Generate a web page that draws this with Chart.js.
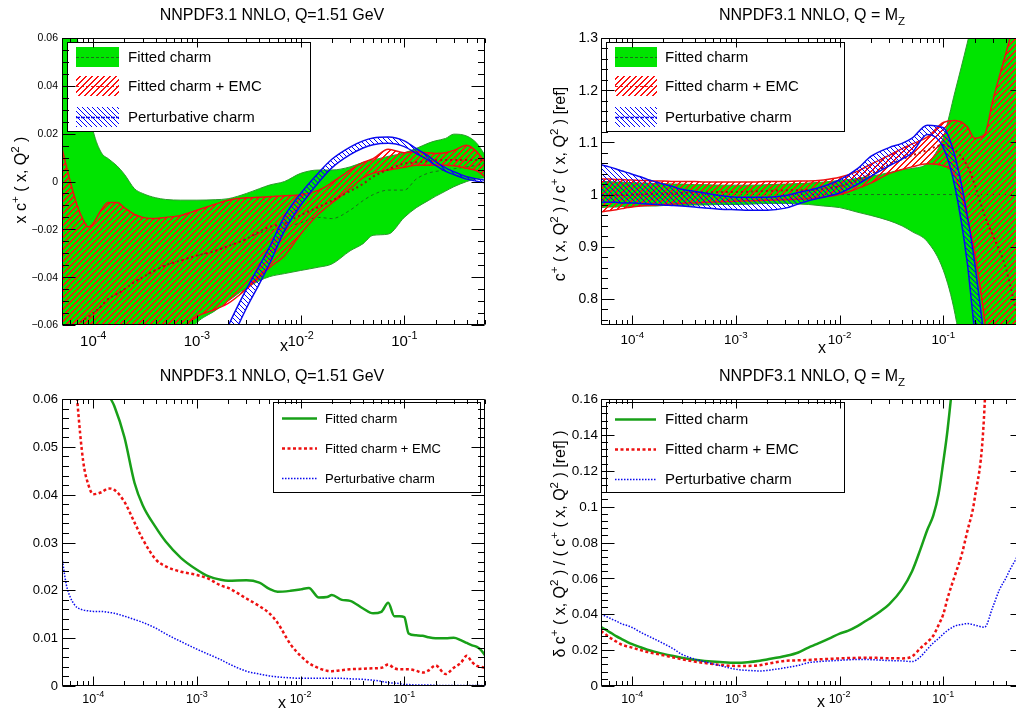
<!DOCTYPE html>
<html>
<head>
<meta charset="utf-8">
<script src="https://cdn.jsdelivr.net/npm/chart.js@4.4.1/dist/chart.umd.min.js"></script>
<style>
  html, body { margin: 0; padding: 0; background: #fff; width: 1016px; height: 709px; overflow: hidden; }
  .cell { position: absolute; overflow: hidden; }
  canvas { display: block; }
</style>
</head>
<body>
<div class="cell" style="left:0;top:0;width:508px;height:354px"><canvas id="c1" width="508" height="354"></canvas></div>
<div class="cell" style="left:508px;top:0;width:508px;height:354px"><canvas id="c2" width="530" height="354"></canvas></div>
<div class="cell" style="left:0;top:354px;width:508px;height:355px"><canvas id="c3" width="508" height="355"></canvas></div>
<div class="cell" style="left:508px;top:354px;width:508px;height:355px"><canvas id="c4" width="530" height="355"></canvas></div>
<script>
// x range shared by all four pads
const X_MIN = 5e-5;
const X_MAX = 0.6;
const xDecades = [1e-4, 1e-3, 1e-2, 1e-1];
const xDecadeExp = ['-4', '-3', '-2', '-1'];
const legendLabels = ['Fitted charm', 'Fitted charm + EMC', 'Perturbative charm'];

// grid used by the uncertainty bands (top row)
const xBand = [5e-5, 6e-5, 7e-5, 8e-5, 9e-5, 1e-4, 1.2e-4, 1.4e-4, 1.7e-4, 2e-4, 2.5e-4, 3e-4, 4e-4, 5e-4, 7e-4,
  1e-3, 1.5e-3, 2e-3, 3e-3, 4e-3, 5e-3, 7e-3, 0.01, 0.015, 0.02, 0.03, 0.04, 0.05, 0.07, 0.1, 0.13, 0.17, 0.2,
  0.25, 0.3, 0.4, 0.5, 0.6];
const xBlue1 = [1.5e-3, 2e-3, 3e-3, 4e-3, 5e-3, 7e-3, 0.01, 0.015, 0.02, 0.03, 0.04, 0.05, 0.07, 0.1, 0.13, 0.17,
  0.2, 0.25, 0.3, 0.4, 0.5, 0.6];
const xRefLine = [5e-5, 0.6];

// top left: x c+ at Q = 1.51 GeV
const greenUp1 = [0.09, 0.075, 0.06, 0.045, 0.031, 0.021, 0.012, 0.0095, 0.0065, 0.003, -0.003, -0.005, -0.0068,
  -0.0075, -0.0078, -0.0078, -0.0076, -0.0072, -0.005, -0.003, -0.0015, 0.0, 0.0034, 0.0048, 0.0048, 0.0061,
  0.008, 0.009, 0.0105, 0.012, 0.0138, 0.016, 0.017, 0.018, 0.0198, 0.019, 0.016, 0.011];
const greenLo1 = [-0.09, -0.09, -0.09, -0.09, -0.09, -0.09, -0.09, -0.09, -0.09, -0.09, -0.09, -0.09, -0.09, -0.09,
  -0.068, -0.059, -0.054, -0.050, -0.0445, -0.0415, -0.0398, -0.0385, -0.0372, -0.0358, -0.0345, -0.029, -0.026,
  -0.0225, -0.022, -0.015, -0.011, -0.008, -0.0062, -0.004, -0.0022, 0.0, 0.0012, 0.0015];
const greenMid1 = [-0.066, -0.063, -0.060, -0.058, -0.0565, -0.055, -0.052, -0.049, -0.047, -0.045, -0.042, -0.040,
  -0.037, -0.035, -0.033, -0.031, -0.029, -0.027, -0.024, -0.0215, -0.0205, -0.0195, -0.0172, -0.015, -0.0155,
  -0.012, -0.008, -0.0055, -0.0036, -0.0036, 0.001, 0.0035, 0.0042, 0.0048, 0.0053, 0.0061, 0.0068, 0.0075];
const redUp1 = [0.0138, 0.0, -0.010, -0.016, -0.019, -0.0175, -0.0118, -0.0088, -0.0088, -0.011, -0.0138, -0.015,
  -0.0155, -0.015, -0.0142, -0.012, -0.0095, -0.0078, -0.0068, -0.0066, -0.0064, -0.006, -0.0055, -0.0036, -0.0005,
  0.0048, 0.008, 0.0095, 0.0135, 0.012, 0.0124, 0.012, 0.0117, 0.012, 0.013, 0.0152, 0.0124, 0.008];
const redLo1 = [-0.08, -0.08, -0.08, -0.08, -0.08, -0.08, -0.08, -0.08, -0.08, -0.08, -0.08, -0.08, -0.08, -0.08,
  -0.063, -0.0565, -0.0535, -0.051, -0.045, -0.040, -0.036, -0.031, -0.022, -0.0135, -0.009, -0.003, 0.0015,
  0.0035, 0.0048, 0.006, 0.0068, 0.0068, 0.0068, 0.0068, 0.0066, 0.0055, 0.0045, 0.002];
const redMid1 = [-0.066, -0.063, -0.060, -0.058, -0.0565, -0.055, -0.052, -0.049, -0.047, -0.045, -0.042, -0.040,
  -0.037, -0.035, -0.033, -0.031, -0.029, -0.027, -0.024, -0.021, -0.019, -0.0175, -0.014, -0.0106, -0.008, -0.004,
  -0.001, 0.002, 0.005, 0.0075, 0.008, 0.0085, 0.0088, 0.009, 0.009, 0.009, 0.009, 0.009];
const blueUp1 = [-0.0735, -0.0605, -0.045, -0.0352, -0.0275, -0.0145, -0.005, 0.0038, 0.0093, 0.0144, 0.017,
  0.0182, 0.0186, 0.017, 0.0138, 0.0107, 0.0083, 0.0057, 0.0041, 0.002, 0.0011, 0.0005];
const blueLo1 = [-0.0825, -0.0695, -0.053, -0.0428, -0.0345, -0.0205, -0.010, -0.0002, 0.0057, 0.0112, 0.014,
  0.0154, 0.016, 0.0146, 0.0118, 0.0089, 0.0067, 0.0043, 0.0029, 0.001, 0.0001, -0.0005];

// top right: ratio to reference at Q = MZ
const greenUp2 = [1.025, 1.025, 1.024, 1.024, 1.023, 1.023, 1.022, 1.022, 1.021, 1.021, 1.02, 1.02, 1.019, 1.019,
  1.018, 1.018, 1.018, 1.019, 1.02, 1.021, 1.022, 1.024, 1.027, 1.031, 1.035, 1.042, 1.048, 1.05, 1.06, 1.11, 1.198,
  1.29, 1.35, 1.45, 1.5, 1.6, 1.7, 1.8];
const greenLo2 = [0.975, 0.976, 0.976, 0.977, 0.977, 0.977, 0.978, 0.978, 0.978, 0.979, 0.979, 0.979, 0.98, 0.98,
  0.981, 0.981, 0.982, 0.983, 0.983, 0.982, 0.981, 0.978, 0.975, 0.966, 0.96, 0.95, 0.94, 0.929, 0.91, 0.855, 0.77,
  0.62, 0.5, 0.4, 0.3, 0.2, 0.1, 0.0];
const greenMid2 = [1, 1];
const redUp2 = [1.030, 1.030, 1.029, 1.029, 1.028, 1.028, 1.027, 1.027, 1.026, 1.026, 1.025, 1.025, 1.025, 1.024,
  1.024, 1.024, 1.024, 1.025, 1.025, 1.026, 1.026, 1.028, 1.033, 1.045, 1.058, 1.075, 1.088, 1.097, 1.11, 1.138,
  1.142, 1.13, 1.108, 1.115, 1.18, 1.27, 1.34, 1.4];
const redLo2 = [0.967, 0.969, 0.971, 0.973, 0.975, 0.976, 0.978, 0.979, 0.98, 0.981, 0.982, 0.983, 0.984, 0.985,
  0.986, 0.987, 0.988, 0.989, 0.99, 0.991, 0.992, 0.995, 1.0, 1.012, 1.022, 1.04, 1.048, 1.053, 1.059, 1.055, 1.035,
  0.955, 0.89, 0.76, 0.62, 0.5, 0.4, 0.3];
const redMid2 = [0.998, 0.998, 0.999, 0.999, 0.999, 1.0, 1.0, 1.001, 1.001, 1.002, 1.002, 1.003, 1.004, 1.004,
  1.005, 1.005, 1.006, 1.007, 1.008, 1.008, 1.009, 1.011, 1.016, 1.028, 1.04, 1.057, 1.068, 1.075, 1.085, 1.095,
  1.085, 1.055, 1.02, 0.96, 0.922, 0.86, 0.78, 0.72];
const blueUp2 = [1.057, 1.053, 1.049, 1.045, 1.042, 1.039, 1.034, 1.029, 1.024, 1.020, 1.015, 1.010, 1.006, 1.003,
  0.998, 0.995, 0.995, 0.995, 0.998, 1.004, 1.008, 1.016, 1.028, 1.05, 1.073, 1.09, 1.098, 1.108, 1.133, 1.128,
  1.072, 0.961, 0.871, 0.72, 0.6, 0.4, 0.3, 0.2];
const blueLo2 = [0.985, 0.985, 0.985, 0.984, 0.984, 0.984, 0.983, 0.982, 0.981, 0.980, 0.979, 0.978, 0.976, 0.974,
  0.972, 0.971, 0.970, 0.970, 0.974, 0.982, 0.988, 0.995, 1.003, 1.02, 1.035, 1.055, 1.068, 1.080, 1.115, 1.09,
  1.013, 0.87, 0.74, 0.6, 0.5, 0.3, 0.2, 0.1];

// bottom row: uncertainties
const xDense = [5e-5, 5.5e-5, 6e-5, 6.5e-5, 7e-5, 8e-5, 9e-5, 1e-4, 1.2e-4, 1.4e-4, 1.6e-4, 2e-4, 2.5e-4, 3e-4,
  4e-4, 5e-4, 7e-4, 1e-3, 1.3e-3, 1.7e-3, 2e-3, 3e-3, 4e-3, 5e-3, 6e-3, 8e-3, 0.01, 0.012, 0.015, 0.018, 0.02,
  0.025, 0.03, 0.04, 0.05, 0.06, 0.07, 0.08, 0.09, 0.1, 0.11, 0.13, 0.15, 0.17, 0.2, 0.25, 0.3, 0.35, 0.4, 0.45,
  0.5, 0.55, 0.6];
const dGreen3 = [0.1, 0.096, 0.092, 0.088, 0.085, 0.079, 0.074, 0.0705, 0.065, 0.061, 0.0585, 0.052, 0.0425, 0.0378,
  0.0332, 0.0302, 0.0268, 0.0243, 0.0229, 0.0222, 0.0220, 0.0221, 0.0216, 0.0203, 0.0197, 0.0199, 0.0202, 0.0205,
  0.0185, 0.0186, 0.0190, 0.0180, 0.0178, 0.0162, 0.0152, 0.0155, 0.0174, 0.0146, 0.0146, 0.0144, 0.011, 0.0106,
  0.0105, 0.0102, 0.0100, 0.0100, 0.0101, 0.0096, 0.0090, 0.0085, 0.0082, 0.0075, 0.0064];
const dRed3 = [0.12, 0.10, 0.085, 0.07, 0.06, 0.047, 0.042, 0.0401, 0.0405, 0.0413, 0.041, 0.0385, 0.0342, 0.0307,
  0.0265, 0.025, 0.0239, 0.0232, 0.0224, 0.021, 0.0205, 0.0183, 0.0167, 0.0152, 0.0132, 0.0087, 0.0063, 0.0048,
  0.0037, 0.0032, 0.0031, 0.0033, 0.0035, 0.0036, 0.0037, 0.0038, 0.0045, 0.0037, 0.0035, 0.0035, 0.0035, 0.0032,
  0.0028, 0.0032, 0.0043, 0.0025, 0.0038, 0.0048, 0.0063, 0.005, 0.0042, 0.004, 0.0038];
const dBlue3 = [0.0268, 0.0212, 0.0186, 0.0172, 0.0164, 0.0159, 0.0157, 0.0156, 0.0156, 0.0154, 0.0152, 0.0146,
  0.0139, 0.0133, 0.0121, 0.0109, 0.0093, 0.0077, 0.0066, 0.0055, 0.0047, 0.0031, 0.0025, 0.0021, 0.0019, 0.0017,
  0.0016, 0.0016, 0.0016, 0.0016, 0.0016, 0.0016, 0.0015, 0.0014, 0.0012, 0.001, 0.0007, 0.0006, 0.0005, 0.0003,
  0.0003, 0.0002, 0.0002, 0.0002, 0.00015, 0.0001, 0.0001, 0.0001, 0.0001, 0.0001, 0.0001, 0.0001, 0.0];
const dGreen4 = [0.0329, 0.0316, 0.0302, 0.029, 0.0278, 0.026, 0.0245, 0.0233, 0.0216, 0.0202, 0.0193, 0.0179,
  0.0167, 0.0158, 0.0146, 0.014, 0.0134, 0.013, 0.0133, 0.0141, 0.0148, 0.0167, 0.0187, 0.0214, 0.0233, 0.0265,
  0.0292, 0.0307, 0.0335, 0.0364, 0.038, 0.0418, 0.0455, 0.054, 0.064, 0.076, 0.087, 0.095, 0.107, 0.125, 0.143,
  0.185, 0.23, 0.27, 0.32, 0.4, 0.5, 0.6, 0.7, 0.8, 0.9, 1.0, 1.1];
const dRed4 = [0.0307, 0.029, 0.0272, 0.026, 0.0248, 0.0229, 0.0221, 0.0214, 0.0200, 0.0190, 0.0183, 0.0171,
  0.0159, 0.0149, 0.0136, 0.0128, 0.0118, 0.0112, 0.0112, 0.0116, 0.0124, 0.014, 0.0143, 0.0145, 0.0148, 0.0151,
  0.0154, 0.0156, 0.0157, 0.0158, 0.0158, 0.0156, 0.0155, 0.0154, 0.0165, 0.021, 0.0245, 0.028, 0.034, 0.040,
  0.049, 0.062, 0.073, 0.086, 0.104, 0.156, 0.3, 0.4, 0.5, 0.6, 0.7, 0.8, 0.9];
const dBlue4 = [0.040, 0.039, 0.038, 0.037, 0.0362, 0.0345, 0.0337, 0.0326, 0.030, 0.0281, 0.0265, 0.0237, 0.0207,
  0.0177, 0.015, 0.0135, 0.0114, 0.0093, 0.0087, 0.0084, 0.0087, 0.0102, 0.0115, 0.013, 0.0135, 0.014, 0.0143,
  0.0146, 0.0148, 0.0148, 0.0147, 0.0144, 0.0142, 0.014, 0.0136, 0.0162, 0.0205, 0.024, 0.0265, 0.029, 0.031,
  0.0335, 0.0343, 0.0348, 0.034, 0.0328, 0.044, 0.054, 0.060, 0.066, 0.0707, 0.076, 0.08];

// y axis ticks
const yTicks1 = [-0.06, -0.04, -0.02, 0, 0.02, 0.04, 0.06];
const yLabels1 = ['\u22120.06', '\u22120.04', '\u22120.02', '0', '0.02', '0.04', '0.06'];
const yTicks2 = [0.8, 0.9, 1.0, 1.1, 1.2, 1.3];
const yLabels2 = ['0.8', '0.9', '1', '1.1', '1.2', '1.3'];
const yTicks3 = [0, 0.01, 0.02, 0.03, 0.04, 0.05, 0.06];
const yLabels3 = ['0', '0.01', '0.02', '0.03', '0.04', '0.05', '0.06'];
const yTicks4 = [0, 0.02, 0.04, 0.06, 0.08, 0.1, 0.12, 0.14, 0.16];
const yLabels4 = ['0', '0.02', '0.04', '0.06', '0.08', '0.1', '0.12', '0.14', '0.16'];

const FONT = "'Liberation Sans', Arial, Helvetica, sans-serif";
const GREEN_FILL = '#00e400';
const GREEN_EDGE = '#2a9a2a';
const GREEN_MID = '#1d6b1d';
const GREEN_LINE = '#18a018';
const RED = '#ee1111';
const BLUE = '#0a0aee';

// pixel diagonal hatch, like the ROOT fill styles
function makeHatch(color, size, dir, lw) {
  const c = document.createElement('canvas');
  c.width = size; c.height = size;
  const g = c.getContext('2d');
  g.fillStyle = color;
  for (let i = 0; i < size; i++) {
    for (let w = 0; w < lw; w++) {
      g.fillRect((i + w) % size, dir > 0 ? size - 1 - i : i, 1, 1);
    }
  }
  return g.createPattern(c, 'repeat');
}
const redHatch = makeHatch('#ff1010', 6, 1, 2);
const blueHatch = makeHatch('#0000ff', 5, -1, 1);

function pts(xs, ys) {
  return xs.map((x, i) => ({ x: x, y: ys[i] }));
}

function curve(xs, ys, color, width, order, extra) {
  return Object.assign({
    data: pts(xs, ys),
    borderColor: color,
    borderWidth: width,
    borderDash: [],
    pointRadius: 0,
    fill: false,
    backgroundColor: 'transparent',
    cubicInterpolationMode: 'monotone',
    capBezierPoints: false,
    clip: 0,
    order: order
  }, extra || {});
}

const info = {};

function richWidth(ctx, segs, size) {
  let w = 0;
  segs.forEach(s => {
    ctx.font = (s[1] ? size * 0.72 : size) + 'px ' + FONT;
    w += ctx.measureText(s[0]).width;
  });
  return w;
}

function drawRich(ctx, segs, x, y, size, align) {
  let cx = x;
  const w = richWidth(ctx, segs, size);
  if (align === 'center') cx = x - w / 2;
  if (align === 'right') cx = x - w;
  ctx.textAlign = 'left';
  ctx.textBaseline = 'alphabetic';
  segs.forEach(s => {
    const sz = s[1] ? size * 0.72 : size;
    ctx.font = sz + 'px ' + FONT;
    const dy = s[1] === 'sup' ? -size * 0.45 : (s[1] === 'sub' ? size * 0.32 : 0);
    ctx.fillText(s[0], cx, y + dy);
    cx += ctx.measureText(s[0]).width;
  });
}

function drawPad(chart, p) {
  const ctx = chart.ctx;
  const a = chart.chartArea;
  const sx = chart.scales.x;
  const sy = chart.scales.y;
  const L = Math.round(a.left) + 0.5, R = Math.round(a.right) - 0.5;
  const T = Math.round(a.top) + 0.5, B = Math.round(a.bottom) - 0.5;
  ctx.save();

  // legend box first so the frame ticks stay visible
  if (p.legend) {
    const lg = p.legend;
    ctx.fillStyle = '#fff';
    ctx.fillRect(lg.x0, lg.y0, lg.x1 - lg.x0, lg.y1 - lg.y0);
    ctx.strokeStyle = '#000';
    ctx.lineWidth = 1;
    ctx.strokeRect(lg.x0 + 0.5, lg.y0 + 0.5, lg.x1 - lg.x0, lg.y1 - lg.y0);
    lg.items.forEach((it, i) => {
      const cy = lg.rows[i];
      if (it.fill) {
        ctx.fillStyle = it.fill;
        ctx.fillRect(lg.s0, cy - 10, lg.s1 - lg.s0, 20);
      }
      ctx.strokeStyle = it.color;
      ctx.lineWidth = it.width;
      ctx.setLineDash(it.dash);
      ctx.beginPath();
      ctx.moveTo(lg.s0, cy + 0.5);
      ctx.lineTo(lg.s1, cy + 0.5);
      ctx.stroke();
      ctx.setLineDash([]);
      ctx.fillStyle = '#000';
      ctx.font = lg.size + 'px ' + FONT;
      ctx.textAlign = 'left';
      ctx.textBaseline = 'middle';
      ctx.fillText(legendLabels[i], lg.tx, cy + 1);
    });
  }

  // frame and ticks on all four sides
  ctx.strokeStyle = '#000';
  ctx.lineWidth = 1;
  ctx.beginPath();
  ctx.rect(L, T, R - L, B - T);
  for (let e = -5; e <= 0; e++) {
    for (let m = 1; m <= 9; m++) {
      const v = m * Math.pow(10, e);
      if (v < X_MIN * 0.999 || v > X_MAX * 1.001) continue;
      const px = Math.round(sx.getPixelForValue(v)) + 0.5;
      const len = m === 1 ? 9 : 4.5;
      ctx.moveTo(px, B); ctx.lineTo(px, B - len);
      ctx.moveTo(px, T); ctx.lineTo(px, T + len);
    }
  }
  const k0 = Math.ceil(p.yMin / p.yMinor - 1e-6);
  const k1 = Math.floor(p.yMax / p.yMinor + 1e-6);
  for (let k = k0; k <= k1; k++) {
    const py = Math.round(sy.getPixelForValue(k * p.yMinor)) + 0.5;
    const len = (k % p.yRatio === 0) ? 13 : 6.5;
    ctx.moveTo(L, py); ctx.lineTo(L + len, py);
    ctx.moveTo(R, py); ctx.lineTo(R - len, py);
  }
  ctx.stroke();

  // tick labels
  ctx.fillStyle = '#000';
  ctx.font = p.yLabSize + 'px ' + FONT;
  ctx.textAlign = 'right';
  ctx.textBaseline = 'middle';
  p.yTicks.forEach((v, i) => {
    ctx.fillText(p.yLabels[i], p.yLabX, sy.getPixelForValue(v) + 0.5);
  });
  xDecades.forEach((v, i) => {
    drawRich(ctx, [['10', ''], [xDecadeExp[i], 'sup']], sx.getPixelForValue(v), p.xLabY, p.xLabSize, 'center');
  });

  // axis titles and pad title
  drawRich(ctx, [['x', '']], p.xTitle[0], p.xTitle[1], 16, 'center');
  ctx.save();
  ctx.translate(p.yTitle[0], p.yTitle[1]);
  ctx.rotate(-Math.PI / 2);
  drawRich(ctx, p.yTitleSegs, 0, 0, 16, 'center');
  ctx.restore();
  drawRich(ctx, p.titleSegs, p.title[0], p.title[1], 16, 'center');
  ctx.restore();
}

const rootPad = {
  id: 'rootPad',
  afterDraw(chart) { drawPad(chart, info[chart.canvas.id]); }
};

function makeChart(id, datasets, yMin, yMax, pad) {
  return new Chart(document.getElementById(id), {
    type: 'line',
    data: { datasets: datasets },
    options: {
      responsive: false,
      animation: false,
      events: [],
      devicePixelRatio: 1,
      layout: { padding: pad },
      scales: {
        x: { type: 'logarithmic', min: X_MIN, max: X_MAX, display: false },
        y: { type: 'linear', min: yMin, max: yMax, display: false }
      },
      plugins: { legend: { display: false }, tooltip: { enabled: false } }
    },
    plugins: [rootPad]
  });
}

const titleLow = [['NNPDF3.1 NNLO, Q=1.51 GeV', '']];
const titleMz = [['NNPDF3.1 NNLO, Q = M', ''], ['Z', 'sub']];

const bandLegend = [
  { fill: GREEN_FILL, color: GREEN_MID, width: 1, dash: [3, 2] },
  { fill: redHatch, color: RED, width: 1.2, dash: [3, 2] },
  { fill: blueHatch, color: BLUE, width: 1.5, dash: [4, 1] }
];
const lineLegend = [
  { color: GREEN_LINE, width: 2.5, dash: [] },
  { color: RED, width: 2.5, dash: [3, 2.5] },
  { color: BLUE, width: 1.5, dash: [1.5, 1.5] }
];

info.c1 = {
  yMin: -0.06, yMax: 0.06, yMinor: 0.005, yRatio: 4,
  yTicks: yTicks1, yLabels: yLabels1, yLabX: 58, yLabSize: 10.5,
  xLabY: 346, xLabSize: 15, xTitle: [284, 351],
  yTitle: [26, 180], yTitleSegs: [['x c', ''], ['+', 'sup'], [' ( x, Q', ''], ['2', 'sup'], [' )', '']],
  title: [272, 19.5], titleSegs: titleLow,
  legend: { x0: 67, y0: 42, x1: 310, y1: 131, s0: 76, s1: 119, tx: 128, rows: [57, 86, 117], size: 15, items: bandLegend }
};
info.c2 = {
  yMin: 0.75, yMax: 1.3, yMinor: 0.02, yRatio: 5,
  yTicks: yTicks2, yLabels: yLabels2, yLabX: 90, yLabSize: 14,
  xLabY: 344, xLabSize: 13.5, xTitle: [314, 353],
  yTitle: [57, 184],
  yTitleSegs: [['c', ''], ['+', 'sup'], [' ( x, Q', ''], ['2', 'sup'], [' ) / c', ''], ['+', 'sup'],
    [' ( x, Q', ''], ['2', 'sup'], [' ) [ref]', '']],
  title: [304, 19.5], titleSegs: titleMz,
  legend: { x0: 98, y0: 42, x1: 336, y1: 131, s0: 107, s1: 149, tx: 157, rows: [57, 86, 117], size: 15, items: bandLegend }
};
info.c3 = {
  yMin: 0, yMax: 0.06, yMinor: 0.002, yRatio: 5,
  yTicks: yTicks3, yLabels: yLabels3, yLabX: 58, yLabSize: 13,
  xLabY: 349, xLabSize: 12.5, xTitle: [282, 354],
  yTitle: [26, 541], yTitleSegs: [['\u03b4 c', ''], ['+', 'sup'], [' ( x, Q', ''], ['2', 'sup'], [' )', '']],
  title: [272, 27], titleSegs: titleLow,
  legend: { x0: 273, y0: 48, x1: 480, y1: 138, s0: 282, s1: 317, tx: 325, rows: [64, 94, 124], size: 13, items: lineLegend }
};
info.c4 = {
  yMin: 0, yMax: 0.16, yMinor: 0.004, yRatio: 5,
  yTicks: yTicks4, yLabels: yLabels4, yLabX: 90, yLabSize: 13.5,
  xLabY: 349, xLabSize: 12.5, xTitle: [313, 353],
  yTitle: [57, 190],
  yTitleSegs: [['\u03b4 c', ''], ['+', 'sup'], [' ( x, Q', ''], ['2', 'sup'], [' ) / ( c', ''], ['+', 'sup'],
    [' ( x, Q', ''], ['2', 'sup'], [' ) [ref] )', '']],
  title: [304, 27], titleSegs: titleMz,
  legend: { x0: 98, y0: 48, x1: 336, y1: 138, s0: 107, s1: 148, tx: 157, rows: [65, 95, 125], size: 15, items: lineLegend }
};

// band pads: green fill under, red hatch over it, blue hatch on top
makeChart('c1', [
  curve(xBand, greenUp1, GREEN_EDGE, 1, 10, { fill: 1, backgroundColor: GREEN_FILL }),
  curve(xBand, greenLo1, GREEN_EDGE, 1, 9),
  curve(xBand, greenMid1, GREEN_MID, 1, 8, { borderDash: [3, 3] }),
  curve(xBand, redUp1, RED, 1.5, 7, { fill: 4, backgroundColor: redHatch }),
  curve(xBand, redLo1, RED, 1.5, 6),
  curve(xBand, redMid1, '#a81010', 2, 5, { borderDash: [2, 3] }),
  curve(xBlue1, blueUp1, BLUE, 1.5, 4, { fill: 7, backgroundColor: blueHatch }),
  curve(xBlue1, blueLo1, BLUE, 1.5, 3)
], -0.06, 0.06, { left: 62, top: 38, right: 23, bottom: 29 });

makeChart('c2', [
  curve(xBand, greenUp2, GREEN_EDGE, 1, 10, { fill: 1, backgroundColor: GREEN_FILL }),
  curve(xBand, greenLo2, GREEN_EDGE, 1, 9),
  curve(xRefLine, greenMid2, GREEN_MID, 1, 8, { borderDash: [3, 3] }),
  curve(xBand, redUp2, RED, 1.5, 7, { fill: 4, backgroundColor: redHatch }),
  curve(xBand, redLo2, RED, 1.5, 6),
  curve(xBand, redMid2, '#a81010', 2, 5, { borderDash: [2, 3] }),
  curve(xBand, blueUp2, BLUE, 1.5, 4, { fill: 7, backgroundColor: blueHatch }),
  curve(xBand, blueLo2, BLUE, 1.5, 3)
], 0.75, 1.3, { left: 93, top: 38, right: 14, bottom: 29 });

makeChart('c3', [
  curve(xDense, dGreen3, GREEN_LINE, 2.5, 3),
  curve(xDense, dRed3, RED, 2.5, 2, { borderDash: [3, 2.5] }),
  curve(xDense, dBlue3, BLUE, 1.5, 1, { borderDash: [1.5, 1.5] })
], 0, 0.06, { left: 62, top: 45, right: 23, bottom: 23 });

makeChart('c4', [
  curve(xDense, dGreen4, GREEN_LINE, 2.5, 3),
  curve(xDense, dRed4, RED, 2.5, 2, { borderDash: [3, 2.5] }),
  curve(xDense, dBlue4, BLUE, 1.5, 1, { borderDash: [1.5, 1.5] })
], 0, 0.16, { left: 93, top: 45, right: 14, bottom: 23 });
</script>
</body>
</html>
